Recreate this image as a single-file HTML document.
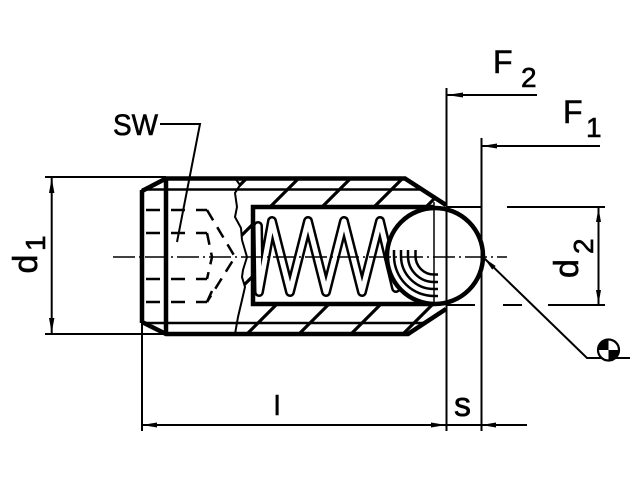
<!DOCTYPE html>
<html>
<head>
<meta charset="utf-8">
<style>
  html, body { margin:0; padding:0; background:#fff; }
  svg { display:block; }
  text { font-family: "Liberation Sans", "DejaVu Sans", sans-serif; fill:#000; stroke:#000; stroke-width:0.6; }
</style>
</head>
<body>
<svg width="640" height="480" viewBox="0 0 640 480" xmlns="http://www.w3.org/2000/svg">
  <defs>
    <clipPath id="sec">
      <path clip-rule="evenodd" d="M235,178 L405,178 L446,205 L446,309 L408,334 L235,334 L238,317 L242,300 L245,287 L242,277 L243,270 L246,257 L242,240 L241,228 L235,217 L237,207 L235,193 L240,185 Z M253,207 L447,207 L447,304 L253,304 Z"/>
    </clipPath>
  </defs>
  <rect width="640" height="480" fill="#fff"/>

  <!-- hatching -->
  <g clip-path="url(#sec)" stroke="#000" stroke-width="3.2">
    <line x1="275" y1="150" x2="75" y2="350"/>
    <line x1="327" y1="150" x2="127" y2="350"/>
    <line x1="379" y1="150" x2="179" y2="350"/>
    <line x1="431" y1="150" x2="231" y2="350"/>
    <line x1="483" y1="150" x2="283" y2="350"/>
    <line x1="535" y1="150" x2="335" y2="350"/>
    <line x1="587" y1="150" x2="387" y2="350"/>
  </g>

  <!-- thin thread lines -->
  <g stroke="#000" stroke-width="2.5" fill="none">
    <line x1="142" y1="189.5" x2="422.5" y2="189.5"/>
    <line x1="142" y1="323" x2="424.5" y2="323"/>
  </g>

  <!-- break line -->
  <polyline fill="none" stroke="#000" stroke-width="2" points="235,178 240,185 235,193 237,207 235,217 241,228 242,240 247,257 243,270 242,277 245,287 242,300 238,317 235,334"/>

  <!-- hidden hex socket -->
  <g stroke="#000" stroke-width="2.5" fill="none" stroke-dasharray="14 11">
    <line x1="146" y1="210" x2="207" y2="210"/>
    <line x1="146" y1="233" x2="207" y2="233"/>
    <line x1="146" y1="279" x2="207" y2="279"/>
    <line x1="146" y1="302" x2="207" y2="302"/>
  </g>
  <g stroke="#000" stroke-width="2.5" fill="none" stroke-dasharray="12 8">
    <polyline points="207,210 235,257 207,302"/>
    <polyline points="207,233 212,257 207,279"/>
    <line x1="212" y1="291" x2="207" y2="302"/>
  </g>

  <!-- thick outlines -->
  <g stroke="#000" stroke-width="4.5" fill="none" stroke-linejoin="miter">
    <polyline points="142,191 166,178.5 405,178.5 446,205"/>
    <polyline points="142,322 166,334 408,334 446,309"/>
    <line x1="142" y1="190" x2="142" y2="323"/>
    <line x1="166" y1="178" x2="166" y2="335"/>
    <polyline points="434,207 253,207 253,304 434,304"/>
  </g>

  <!-- spring -->
  <polyline fill="none" stroke="#000" stroke-width="10" stroke-linejoin="round" stroke-linecap="round"
    points="258,226 259,292 272,221 290,292 308,221 326,292 344,221 362,292 380,221 396,288"/>
  <polyline fill="none" stroke="#fff" stroke-width="5" stroke-linejoin="round" stroke-linecap="round"
    points="258,226 259,292 272,221 290,292 308,221 326,292 344,221 362,292 380,221 396,288"/>

  <!-- ball -->
  <circle cx="435" cy="256" r="48" fill="#fff" stroke="#000" stroke-width="4.5"/>
  <g stroke="#000" stroke-width="2.5" fill="none">
    <path d="M415.5,250 L415.5,256 A18.5 18.5 0 0 0 434 274.5 L438,274.5"/>
    <path d="M408,250 L408,256 A26 26 0 0 0 434 282 L438,282"/>
    <path d="M401,250 L401,256 A33 33 0 0 0 434 289 L438,289"/>
    <path d="M394,250 L394,256 A40 40 0 0 0 434 296 L438,296"/>
  </g>
  <line x1="434" y1="202" x2="434" y2="306" stroke="#000" stroke-width="1.5"/>

  <!-- center line -->
  <line x1="113" y1="257" x2="507" y2="257" stroke="#000" stroke-width="1.6" stroke-dasharray="22 4 2 4"/>

  <!-- extension / dimension lines -->
  <g stroke="#000" stroke-width="2" fill="none">
    <line x1="45" y1="177" x2="166" y2="177"/>
    <line x1="45" y1="334" x2="166" y2="334"/>
    <line x1="51.7" y1="178" x2="51.7" y2="333"/>

    <line x1="142" y1="323" x2="142" y2="431"/>
    <line x1="446.5" y1="88" x2="446.5" y2="431"/>
    <line x1="481.5" y1="138" x2="481.5" y2="431"/>
    <line x1="142" y1="425" x2="527" y2="425"/>

    <line x1="447" y1="95" x2="537" y2="95"/>
    <line x1="481.5" y1="146" x2="600" y2="146"/>

    <line x1="447" y1="207" x2="482" y2="207"/>
    <line x1="507" y1="207" x2="605" y2="207"/>
    <line x1="447" y1="305" x2="475" y2="305"/>
    <line x1="503" y1="305" x2="522" y2="305"/>
    <line x1="548" y1="305" x2="605" y2="305"/>
    <line x1="598.5" y1="208" x2="598.5" y2="304"/>

    <polyline points="484,258 587,358 630,358"/>
    <polyline points="160,124 200,124 177,242"/>
  </g>

  <!-- arrowheads -->
  <g fill="#000" stroke="none">
    <polygon points="51.7,178 49,193 54.4,193"/>
    <polygon points="51.7,333 49,318 54.4,318"/>
    <polygon points="598.5,208 596,222 601,222"/>
    <polygon points="598.5,304 596,290 601,290"/>
    <polygon points="142,425 157,422.5 157,427.5"/>
    <polygon points="446,425 431,422.5 431,427.5"/>
    <polygon points="481.5,425 496,422.5 496,427.5"/>
    <polygon points="447,95 463,92.5 463,97.5"/>
    <polygon points="481.5,146 497,143.5 497,148.5"/>
    <polygon points="484,258 492.3,269.6 495.7,266"/>
  </g>

  <!-- center of mass symbol -->
  <circle cx="608.5" cy="350" r="10.5" fill="#fff" stroke="#000" stroke-width="2.2"/>
  <path d="M608.5,350 L598,350 A10.5 10.5 0 0 1 608.5 339.5 Z" fill="#000"/>
  <path d="M608.5,350 L619,350 A10.5 10.5 0 0 1 608.5 360.5 Z" fill="#000"/>

  <!-- labels -->
  <text x="493" y="73" font-size="32">F</text>
  <text x="521" y="87" font-size="28">2</text>
  <text x="563" y="123" font-size="32">F</text>
  <text x="586" y="137" font-size="28">1</text>
  <text x="113" y="135" font-size="30" textLength="45" lengthAdjust="spacingAndGlyphs">SW</text>
  <text x="274" y="415" font-size="28">l</text>
  <text x="454" y="416" font-size="34">s</text>
  <text transform="translate(37,273.5) rotate(-90)" font-size="34">d</text>
  <text transform="translate(45,251) rotate(-90)" font-size="28">1</text>
  <text transform="translate(578,278) rotate(-90)" font-size="34">d</text>
  <text transform="translate(593,254) rotate(-90)" font-size="28">2</text>
</svg>
</body>
</html>
